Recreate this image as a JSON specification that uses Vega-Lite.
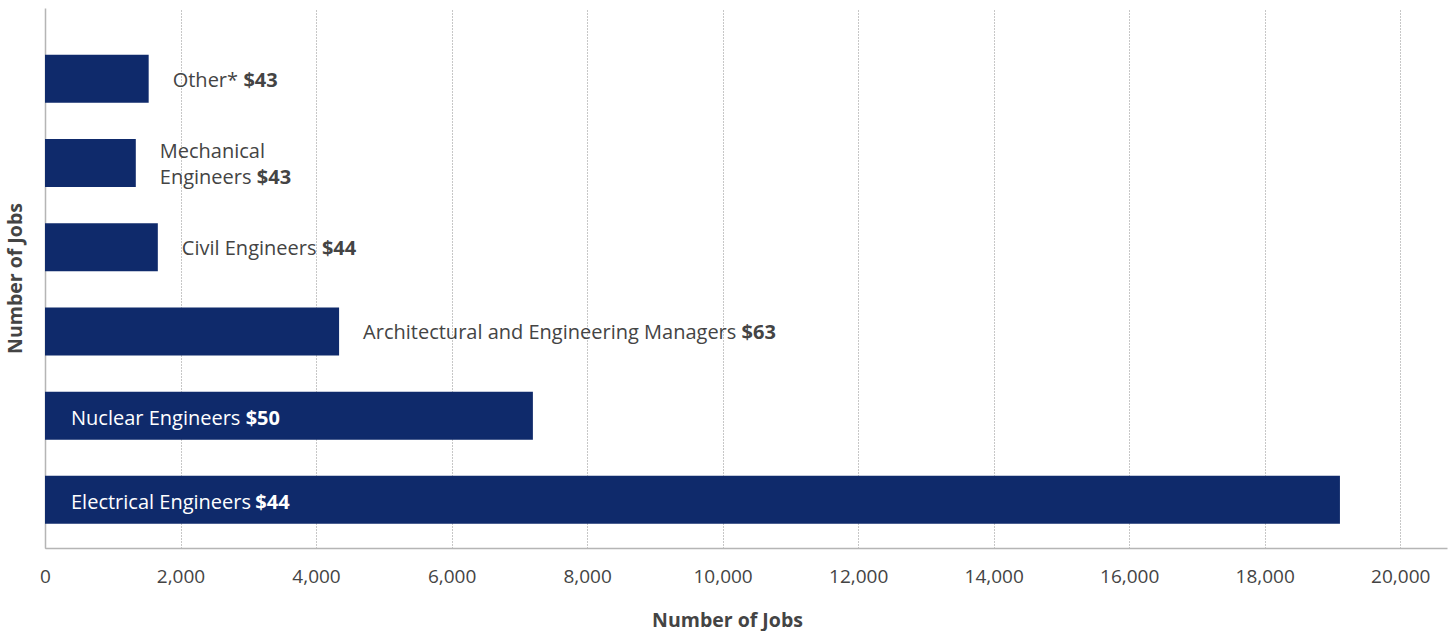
{
  "$schema": "https://vega.github.io/schema/vega-lite/v6.json",
  "width": 1402,
  "height": 540,
  "autosize": {"type": "none"},
  "padding": {"left": 45, "top": 8, "right": 1, "bottom": 83},
  "background": "white",
  "config": {"view": {"stroke": null}, "font": "Open Sans"},
  "data": {
    "values": [
      {"occupation": "Other*", "name": "Other*", "jobs": 1530, "wage": 43},
      {"occupation": "Mechanical Engineers", "name": "Mechanical\nEngineers", "jobs": 1340, "wage": 43},
      {"occupation": "Civil Engineers", "name": "Civil Engineers", "jobs": 1665, "wage": 44},
      {"occupation": "Architectural and Engineering Managers", "name": "Architectural and Engineering Managers", "jobs": 4340, "wage": 63},
      {"occupation": "Nuclear Engineers", "name": "Nuclear Engineers", "jobs": 7200, "wage": 50},
      {"occupation": "Electrical Engineers", "name": "Electrical Engineers", "jobs": 19110, "wage": 44}
    ]
  },
  "transform": [
    {"calculate": "peek(split(datum.name, '\\n'))", "as": "last"},
    {"calculate": "0.253*(length(datum.last)-length(replace(datum.last, regexp('[ijl]','g'), ''))) + 0.26*(length(datum.last)-length(replace(datum.last, regexp(' ','g'), ''))) + 0.346*(length(datum.last)-length(replace(datum.last, regexp('[ft]','g'), ''))) + 0.408*(length(datum.last)-length(replace(datum.last, regexp('r','g'), ''))) + 0.476*(length(datum.last)-length(replace(datum.last, regexp('[cs]','g'), ''))) + 0.5*(length(datum.last)-length(replace(datum.last, regexp('[vyk]','g'), ''))) + 0.555*(length(datum.last)-length(replace(datum.last, regexp('[aeg*]','g'), ''))) + 0.632*(length(datum.last)-length(replace(datum.last, regexp('[AC]','g'), ''))) + 0.612*(length(datum.last)-length(replace(datum.last, regexp('[bdhnopqu]','g'), ''))) + 0.92*(length(datum.last)-length(replace(datum.last, regexp('[mM]','g'), ''))) + 0.527*(length(datum.last)-length(replace(datum.last, regexp('E','g'), ''))) + 0.76*(length(datum.last)-length(replace(datum.last, regexp('[NO]','g'), '')))", "as": "w"},
    {"calculate": "datum.jobs > 5000 ? 0 : datum.jobs", "as": "base"},
    {"calculate": "datum.base + (datum.w * 20 + 6) / 0.0677622", "as": "vx"},
    {"calculate": "indexof(datum.name, '\\n') >= 0", "as": "multi"}
  ],
  "encoding": {
    "y": {
      "field": "occupation",
      "type": "nominal",
      "sort": ["Other*", "Mechanical Engineers", "Civil Engineers", "Architectural and Engineering Managers", "Nuclear Engineers", "Electrical Engineers"],
      "scale": {"paddingInner": 0.43, "paddingOuter": 0.4217, "align": 0.66},
      "axis": {
        "title": "Number of Jobs",
        "labels": false,
        "ticks": false,
        "grid": false,
        "domainColor": "#b5b5b5",
        "domainWidth": 1.5,
        "titleFont": "Open Sans",
        "titleFontWeight": "bold",
        "titleFontSize": 19.5,
        "titleColor": "#444444",
        "titleX": -30,
        "titleY": 270,
        "titleAngle": -90,
        "titleBaseline": "middle",
        "titleAlign": "center"
      }
    }
  },
  "layer": [
    {
      "mark": {"type": "bar", "color": "#0f2a6b"},
      "encoding": {
        "x": {
          "field": "jobs",
          "type": "quantitative",
          "title": "Number of Jobs",
          "scale": {"domain": [0, 20690], "nice": false, "zero": true},
          "axis": {
            "values": [0, 2000, 4000, 6000, 8000, 10000, 12000, 14000, 16000, 18000, 20000],
            "format": ",d",
            "grid": true,
            "gridDash": [1, 2],
            "gridColor": "#8f8f8f",
            "gridWidth": 1,
            "ticks": false,
            "labelFont": "Open Sans",
            "labelFontSize": 19,
            "labelColor": "#444444",
            "labelPadding": 28,
            "labelBaseline": "middle",
            "labelFlush": false,
            "labelOverlap": false,
            "domainColor": "#b5b5b5",
            "domainWidth": 1.5,
            "titleFont": "Open Sans",
            "titleFontSize": 19.5,
            "titleFontWeight": "bold",
            "titleColor": "#444444",
            "titleX": 682,
            "titleY": 72,
            "titleAlign": "center",
            "titleBaseline": "middle"
          }
        }
      }
    },
    {
      "transform": [{"filter": "datum.jobs <= 5000 && !datum.multi"}],
      "mark": {"type": "text", "align": "left", "baseline": "middle", "dx": 24, "dy": 2, "fontSize": 20, "font": "Open Sans", "color": "#444444"},
      "encoding": {
        "x": {"field": "base", "type": "quantitative", "title": "Number of Jobs"},
        "text": {"field": "name"}
      }
    },
    {
      "transform": [{"filter": "datum.jobs <= 5000 && datum.multi"}],
      "mark": {"type": "text", "align": "left", "baseline": "middle", "dx": 24, "dy": -11, "fontSize": 20, "font": "Open Sans", "color": "#444444", "lineBreak": "\n", "lineHeight": 26},
      "encoding": {
        "x": {"field": "base", "type": "quantitative", "title": "Number of Jobs"},
        "text": {"field": "name"}
      }
    },
    {
      "transform": [{"filter": "datum.jobs > 5000"}],
      "mark": {"type": "text", "align": "left", "baseline": "middle", "dx": 26, "dy": 3, "fontSize": 20, "font": "Open Sans", "color": "white"},
      "encoding": {
        "x": {"field": "base", "type": "quantitative", "title": "Number of Jobs"},
        "text": {"field": "name"}
      }
    },
    {
      "transform": [{"filter": "datum.jobs <= 5000 && !datum.multi"}],
      "mark": {"type": "text", "align": "left", "baseline": "middle", "dx": 24, "dy": 2, "fontSize": 20, "font": "Open Sans", "fontWeight": "bold", "color": "#444444"},
      "encoding": {
        "x": {"field": "vx", "type": "quantitative", "title": "Number of Jobs"},
        "text": {"field": "wage", "type": "quantitative", "format": "$d"}
      }
    },
    {
      "transform": [{"filter": "datum.jobs <= 5000 && datum.multi"}],
      "mark": {"type": "text", "align": "left", "baseline": "middle", "dx": 24, "dy": 15, "fontSize": 20, "font": "Open Sans", "fontWeight": "bold", "color": "#444444"},
      "encoding": {
        "x": {"field": "vx", "type": "quantitative", "title": "Number of Jobs"},
        "text": {"field": "wage", "type": "quantitative", "format": "$d"}
      }
    },
    {
      "transform": [{"filter": "datum.jobs > 5000"}],
      "mark": {"type": "text", "align": "left", "baseline": "middle", "dx": 26, "dy": 3, "fontSize": 20, "font": "Open Sans", "fontWeight": "bold", "color": "white"},
      "encoding": {
        "x": {"field": "vx", "type": "quantitative", "title": "Number of Jobs"},
        "text": {"field": "wage", "type": "quantitative", "format": "$d"}
      }
    }
  ]
}
